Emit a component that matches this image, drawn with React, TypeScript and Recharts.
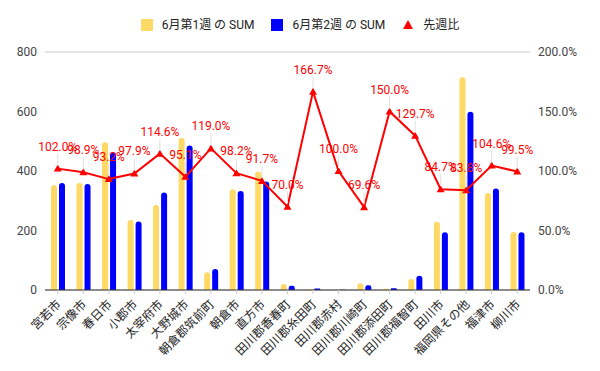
import React from 'react';
import {
  ComposedChart,
  Bar,
  Line,
  XAxis,
  YAxis,
  CartesianGrid,
  LabelList,
} from 'recharts';

const cities = [
  '宮若市', '宗像市', '春日市', '小郡市', '太宰府市', '大野城市', '朝倉郡筑前町', '朝倉市', '直方市',
  '田川郡香春町', '田川郡糸田町', '田川郡赤村', '田川郡川崎町', '田川郡添田町', '田川郡福智町',
  '田川市', '福岡県その他', '福津市', '柳川市',
];
const week1 = [353, 360, 497, 235, 286, 511, 60, 339, 398, 20, 3, 1, 23, 4, 37, 229, 715, 326, 195];
const week2 = [360, 356, 463, 230, 328, 486, 71, 333, 365, 14, 5, 1, 16, 6, 48, 194, 599, 341, 194];
const ratio = [102.0, 98.9, 93.2, 97.9, 114.6, 95.1, 119.0, 98.2, 91.7, 70.0, 166.7, 100.0, 69.6, 150.0, 129.7, 84.7, 83.8, 104.6, 99.5];
const leftTicks = [0, 200, 400, 600, 800];
const rightTicks = [0, 50, 100, 150, 200];

const data = cities.map((name, i) => ({ name, w1: week1[i], w2: week2[i], ratio: ratio[i] }));

const YELLOW = '#ffd966';
const BLUE = '#0000ff';
const RED = '#ff0000';
const FONT = "Roboto, 'Noto Sans CJK JP', sans-serif";

const CityTick = (props: any) => {
  const { x, y, payload } = props;
  return (
    <text
      transform={`translate(${x + 4},${y + 9}) rotate(-45)`}
      textAnchor="end"
      fontSize={12}
      fill="#222"
      fontFamily={FONT}
    >
      {payload.value}
    </text>
  );
};

const Triangle = (props: any) => {
  const { cx, cy } = props;
  if (cx == null || cy == null) return null;
  return <path d={`M${cx},${cy - 4} L${cx + 4},${cy + 3} L${cx - 4},${cy + 3} Z`} fill={RED} />;
};

const RatioLabel = (props: any) => {
  const { x, y, value } = props;
  return (
    <g>
      <line x1={x} y1={y - 3} x2={x} y2={y - 15} stroke="#e0e0e0" strokeWidth={1} />
      <text x={x} y={y - 18} textAnchor="middle" fontSize={12} fill={RED} fontFamily={FONT}>
        {Number(value).toFixed(1)}%
      </text>
    </g>
  );
};

const LegendBox = () => (
  <div
    style={{
      position: 'absolute',
      left: 0,
      top: 18,
      width: 600,
      display: 'flex',
      justifyContent: 'center',
      alignItems: 'center',
      fontFamily: FONT,
      fontSize: 12,
      lineHeight: '14px',
      color: '#222',
    }}
  >
    <span style={{ width: 12, height: 12, background: YELLOW, marginRight: 9 }} />
    <span style={{ marginRight: 17 }}>6月第1週 の SUM</span>
    <span style={{ width: 12, height: 12, background: BLUE, marginRight: 9 }} />
    <span style={{ marginRight: 17 }}>6月第2週 の SUM</span>
    <svg width={12} height={12} style={{ marginRight: 9 }}>
      <path d="M6,1 L11,10 L1,10 Z" fill={RED} />
    </svg>
    <span>先週比</span>
  </div>
);

const App: React.FC = () => {
  return (
    <div style={{ position: 'absolute', left: 0, top: 0, width: 600, height: 371, background: '#fff' }}>
      <ComposedChart
        width={600}
        height={371}
        data={data}
        margin={{ top: 52, right: 0, left: 0, bottom: 0 }}
        barSize={6}
        barGap={2}
      >
        <CartesianGrid vertical={false} stroke="#cccccc" />
        <XAxis
          dataKey="name"
          interval={0}
          height={81}
          tick={<CityTick />}
          axisLine={{ stroke: '#333' }}
          tickLine={{ stroke: '#ccc' }}
          tickSize={4}
        />
        <YAxis
          yAxisId="left"
          width={45}
          domain={[0, 800]}
          ticks={leftTicks}
          axisLine={false}
          tickLine={false}
          tick={{ fontSize: 12, fill: '#444', fontFamily: FONT }}
        />
        <YAxis
          yAxisId="right"
          orientation="right"
          width={70}
          domain={[0, 200]}
          ticks={rightTicks}
          axisLine={false}
          tickLine={false}
          tickFormatter={(v: number) => `${v.toFixed(1)}%`}
          tick={{ fontSize: 12, fill: '#444', fontFamily: FONT }}
        />
        <Bar yAxisId="left" dataKey="w1" name="6月第1週 の SUM" fill={YELLOW} radius={[3, 3, 0, 0]} isAnimationActive={false} />
        <Bar yAxisId="left" dataKey="w2" name="6月第2週 の SUM" fill={BLUE} radius={[3, 3, 0, 0]} isAnimationActive={false} />
        <Line
          yAxisId="right"
          dataKey="ratio"
          name="先週比"
          stroke={RED}
          strokeWidth={2}
          dot={<Triangle />}
          activeDot={false}
          isAnimationActive={false}
        >
          <LabelList dataKey="ratio" content={<RatioLabel />} />
        </Line>
      </ComposedChart>
      <LegendBox />
    </div>
  );
};

export default App;
